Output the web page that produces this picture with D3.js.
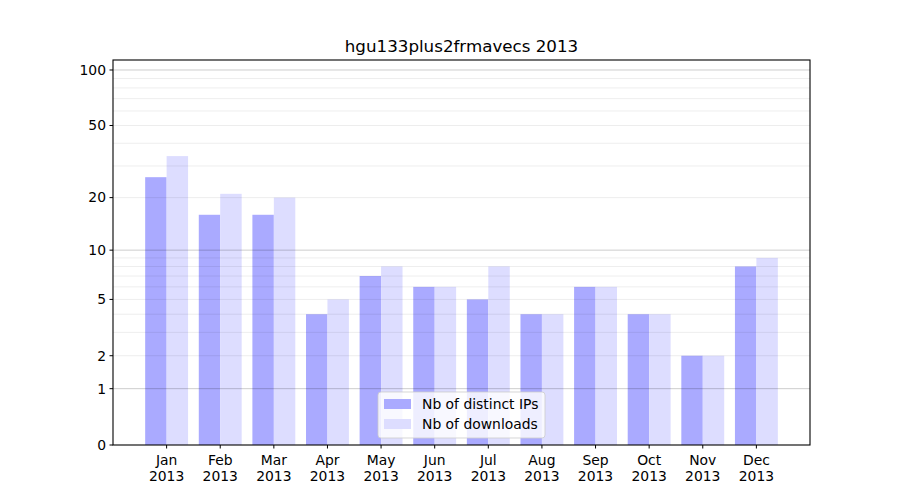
<!DOCTYPE html>
<html><head><meta charset="utf-8">
<script src="https://cdn.jsdelivr.net/npm/d3@7"></script>
<style>body{margin:0;background:#fff}text{font-family:"DejaVu Sans",sans-serif}</style>
</head><body>
<svg id="c" width="900" height="500"></svg>
<script>
const months = ["Jan","Feb","Mar","Apr","May","Jun","Jul","Aug","Sep","Oct","Nov","Dec"];
const yearLabel = "2013";
const distinctIPs = [26,16,16,4,7,6,5,4,6,4,2,8];
const downloads = [34,21,20,5,8,6,8,4,6,4,2,9];
const yTicks = [0,1,2,5,10,20,50,100];
const majorGrid = [1,10,100];
const minorGrid = [2,3,4,5,6,7,8,9,20,30,40,50,60,70,80,90];
const title = "hgu133plus2frmavecs 2013";
const seriesNames = ["Nb of distinct IPs","Nb of downloads"];

const svg = d3.select("#c");
const L=113,R=810,T=60,B=445;
const FS=13.9;
const tf = v => Math.log10(v+1);
const x = d3.scaleLinear().domain([-1,12]).range([L,R]);
const yl = d3.scaleLinear().domain([0, 2.0577]).range([B,T]);
const y = v => yl(tf(v));
const bw = x(0.4)-x(0);

// bars
svg.append("g").selectAll("rect").data(distinctIPs).join("rect")
  .attr("x",(d,i)=>x(i-0.4)).attr("width",bw)
  .attr("y",d=>y(d)).attr("height",d=>B-y(d)).attr("fill","#aaaaff");
svg.append("g").selectAll("rect").data(downloads).join("rect")
  .attr("x",(d,i)=>x(i)).attr("width",bw)
  .attr("y",d=>y(d)).attr("height",d=>B-y(d)).attr("fill","#ddddff");

// grid on top
svg.append("g").selectAll("line").data(minorGrid).join("line")
  .attr("x1",L).attr("x2",R).attr("y1",d=>y(d)).attr("y2",d=>y(d))
  .attr("stroke","#000").attr("stroke-opacity",0.07).attr("stroke-width",1);
svg.append("g").selectAll("line").data(majorGrid).join("line")
  .attr("x1",L).attr("x2",R).attr("y1",d=>y(d)).attr("y2",d=>y(d))
  .attr("stroke","#000").attr("stroke-opacity",0.2).attr("stroke-width",1);

// axes frame
svg.append("rect").attr("x",L).attr("y",T).attr("width",R-L).attr("height",B-T)
  .attr("fill","none").attr("stroke","#000").attr("stroke-width",1.1);

// y ticks
const yg = svg.append("g");
yTicks.forEach(v=>{
  const yy=y(v);
  yg.append("line").attr("x1",L-3.5).attr("x2",L).attr("y1",yy).attr("y2",yy).attr("stroke","#000");
  yg.append("text").attr("x",L-7).attr("y",yy).attr("dy","0.35em").attr("text-anchor","end")
    .attr("font-size",FS).text(v);
});
// x ticks
const xg = svg.append("g");
months.forEach((m,i)=>{
  const xx=x(i);
  xg.append("line").attr("x1",xx).attr("x2",xx).attr("y1",B).attr("y2",B+3.5).attr("stroke","#000");
  const t=xg.append("text").attr("x",xx).attr("y",B+20).attr("text-anchor","middle").attr("font-size",FS);
  t.append("tspan").attr("x",xx).text(m);
  t.append("tspan").attr("x",xx).attr("dy",16).text(yearLabel);
});

svg.append("text").attr("x",(L+R)/2).attr("y",52).attr("text-anchor","middle")
  .attr("font-size",16.7).text(title);

// legend
const lw=167, lh=46, lx=(L+R)/2-lw/2, ly=B-7-lh;
const lg = svg.append("g");
lg.append("rect").attr("x",lx).attr("y",ly).attr("width",lw).attr("height",lh).attr("rx",3)
  .attr("fill","#fff").attr("fill-opacity",0.8).attr("stroke","#ccc").attr("stroke-opacity",0.8);
[["#aaaaff",seriesNames[0]],["#ddddff",seriesNames[1]]].forEach((s,k)=>{
  const cy=ly+12+k*20;
  lg.append("rect").attr("x",lx+6).attr("y",cy-5).attr("width",27).attr("height",10).attr("fill",s[0]);
  lg.append("text").attr("x",lx+44).attr("y",cy).attr("dy","0.35em").attr("font-size",FS).text(s[1]);
});
</script>
</body></html>
